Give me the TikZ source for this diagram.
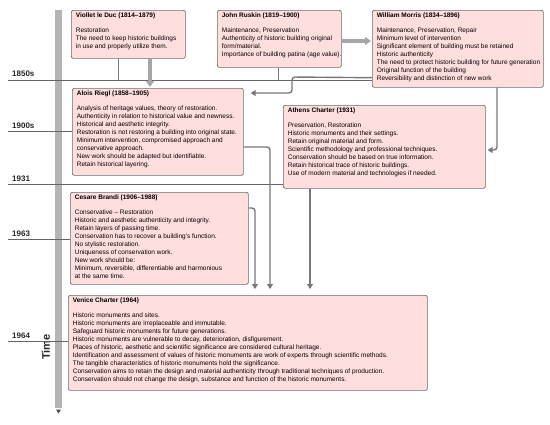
\documentclass[tikz,border=0pt]{standalone}
\usepackage{fontspec}
\setmainfont{Liberation Sans}
\usetikzlibrary{arrows.meta,calc}
\definecolor{boxpink}{HTML}{FFDEDE}
\definecolor{boxline}{HTML}{6E6A6A}
\definecolor{conncol}{HTML}{787878}
\definecolor{barcol}{HTML}{B4B4B4}
\definecolor{fatcol}{HTML}{A6A6A6}
\newcommand{\bxt}[4]{\begin{minipage}[t][#2][t]{#1}\begin{tabular}[t]{@{}l@{}}\textbf{#3}\\ \\ #4\end{tabular}\end{minipage}}
\begin{document}
\begin{tikzpicture}[x=1pt,y=-1pt,
  box/.style={draw=boxline, fill=boxpink, rounded corners=2pt, line width=0.7pt,
    inner xsep=4.5pt, inner ysep=1.2pt, anchor=north west,
    font=\fontsize{6.5}{7.9}\selectfont},
  conn/.style={draw=conncol, line width=1.4pt, rounded corners=3pt,
    -{Triangle[width=6pt,length=5pt]}},
  fatarrow/.style={draw=fatcol, line width=3.5pt, -{Triangle[width=8pt,length=6pt]}},
  tickline/.style={draw=conncol, line width=0.8pt},
  yearline/.style={draw=gray!80!black, line width=0.7pt},
  yearlab/.style={font=\fontsize{8}{9}\selectfont\bfseries, anchor=base west, inner sep=0pt, text=black!85}
]
\useasboundingbox (0,0) rectangle (550,424);
% timeline bar
\fill[barcol] (55,10) rectangle (62,408);
\fill[gray!60!black] (56,409.5) -- (61,409.5) -- (58.5,413.5) -- cycle;
\node[rotate=90, font=\fontsize{11}{12}\selectfont\bfseries, text=black!85] (time) at (46,347) {Time};

% boxes
\node[box] (viollet) at (71,10) {\bxt{105pt}{45.6pt}{Viollet le Duc (1814--1879)}{Restoration\\The need to keep historic buildings\\in use and properly utilize them.}};
\node[box] (ruskin) at (217,10) {\bxt{115pt}{54.6pt}{John Ruskin (1819--1900)}{Maintenance, Preservation\\Authenticity of historic building original\\form/material.\\Importance of building patina (age value).}};
\node[box] (morris) at (372,10) {\bxt{162pt}{74.6pt}{William Morris (1834--1896)}{Maintenance, Preservation, Repair\\Minimum level of intervention\\Significant element of building must be retained\\Historic authenticity\\The need to protect historic building for future generation\\Original function of the building\\Reversibility and distinction of new work}};
\node[box] (riegl) at (72,88) {\bxt{162pt}{84.6pt}{Alois Riegl (1858--1905)}{Analysis of heritage values, theory of restoration.\\Authenticity in relation to historical value and newness.\\Historical and aesthetic integrity.\\Restoration is not restoring a building into original state.\\Minimum intervention, compromised approach and\\conservative approach.\\New work should be adapted but identifiable.\\Retain historical layering.}};
\node[box] (athens) at (283,105) {\bxt{193pt}{80.6pt}{Athens Charter (1931)}{Preservation, Restoration\\Historic monuments and their settings.\\Retain original material and form.\\Scientific methodology and professional techniques.\\Conservation should be based on true information.\\Retain historical trace of historic buildings.\\Use of modern material and technologies if needed.}};
\node[box] (brandi) at (70,192) {\bxt{169pt}{89.6pt}{Cesare Brandi (1906--1988)}{Conservative -- Restoration\\Historic and aesthetic authenticity and integrity.\\Retain layers of passing time.\\Conservation has to recover a building's function.\\No stylistic restoration.\\Uniqueness of conservation work.\\New work should be:\\Minimum, reversible, differentiable and harmonious\\at the same time.}};
\node[box] (venice) at (68,295) {\bxt{350pt}{92.6pt}{Venice Charter (1964)}{Historic monuments and sites.\\Historic monuments are irreplaceable and immutable.\\Safeguard historic monuments for future generations.\\Historic monuments are vulnerable to decay, deterioration, disfigurement.\\Places of historic, aesthetic and scientific significance are considered cultural heritage.\\Identification and assessment of values of historic monuments are work of experts through scientific methods.\\The tangible characteristics of historic monuments hold the significance.\\Conservation aims to retain the design and material authenticity through traditional techniques of production.\\Conservation should not change the design, substance and function of the historic monuments.}};

% year labels and lines
\node[yearlab] (y1850) at (12,76) {1850s};
\node[yearlab] (y1900) at (12,128) {1900s};
\node[yearlab] (y1931) at (12,181) {1931};
\node[yearlab] (y1963) at (12,236) {1963};
\node[yearlab] (y1964) at (12,338) {1964};
\draw[yearline] (8,80) -- (morris.west |- 0,80);
\draw[yearline] (8,131) -- (riegl.west |- 0,131);
\draw[yearline] (8,184) -- (athens.west |- 0,184);
\draw[yearline] (8,239) -- (brandi.west |- 0,239);
\draw[yearline] (8,341) -- (venice.west |- 0,341);

% drop lines to time lines
\draw[tickline] (118,0 |- viollet.south) -- (118,80);
\draw[tickline] (278,0 |- ruskin.south) -- (278,80);

% fat arrows
\draw[fatarrow, shorten >=1pt] (150,0 |- viollet.south) -- (150,0 |- riegl.north);
\draw[fatarrow, shorten >=1pt] (ruskin.east |- 0,41) -- (morris.west |- 0,41);

% connectors
\draw[conn, shorten >=7pt] ([yshift=10pt]morris.south west) -- (292,77) |- (riegl.east |- 0,93);
\draw[conn, shorten >=2pt] (497,0 |- morris.south) |- (athens.east |- 0,150);
\draw[conn, shorten >=6pt] ([yshift=-59pt]riegl.north east) -| (270,0 |- venice.north);
\draw[conn, shorten >=6pt] ([yshift=-16pt]brandi.north east) -| (255,0 |- venice.north);
\draw[conn, shorten >=6pt] (310,0 |- athens.south) -- (310,0 |- venice.north);
\end{tikzpicture}
\end{document}
